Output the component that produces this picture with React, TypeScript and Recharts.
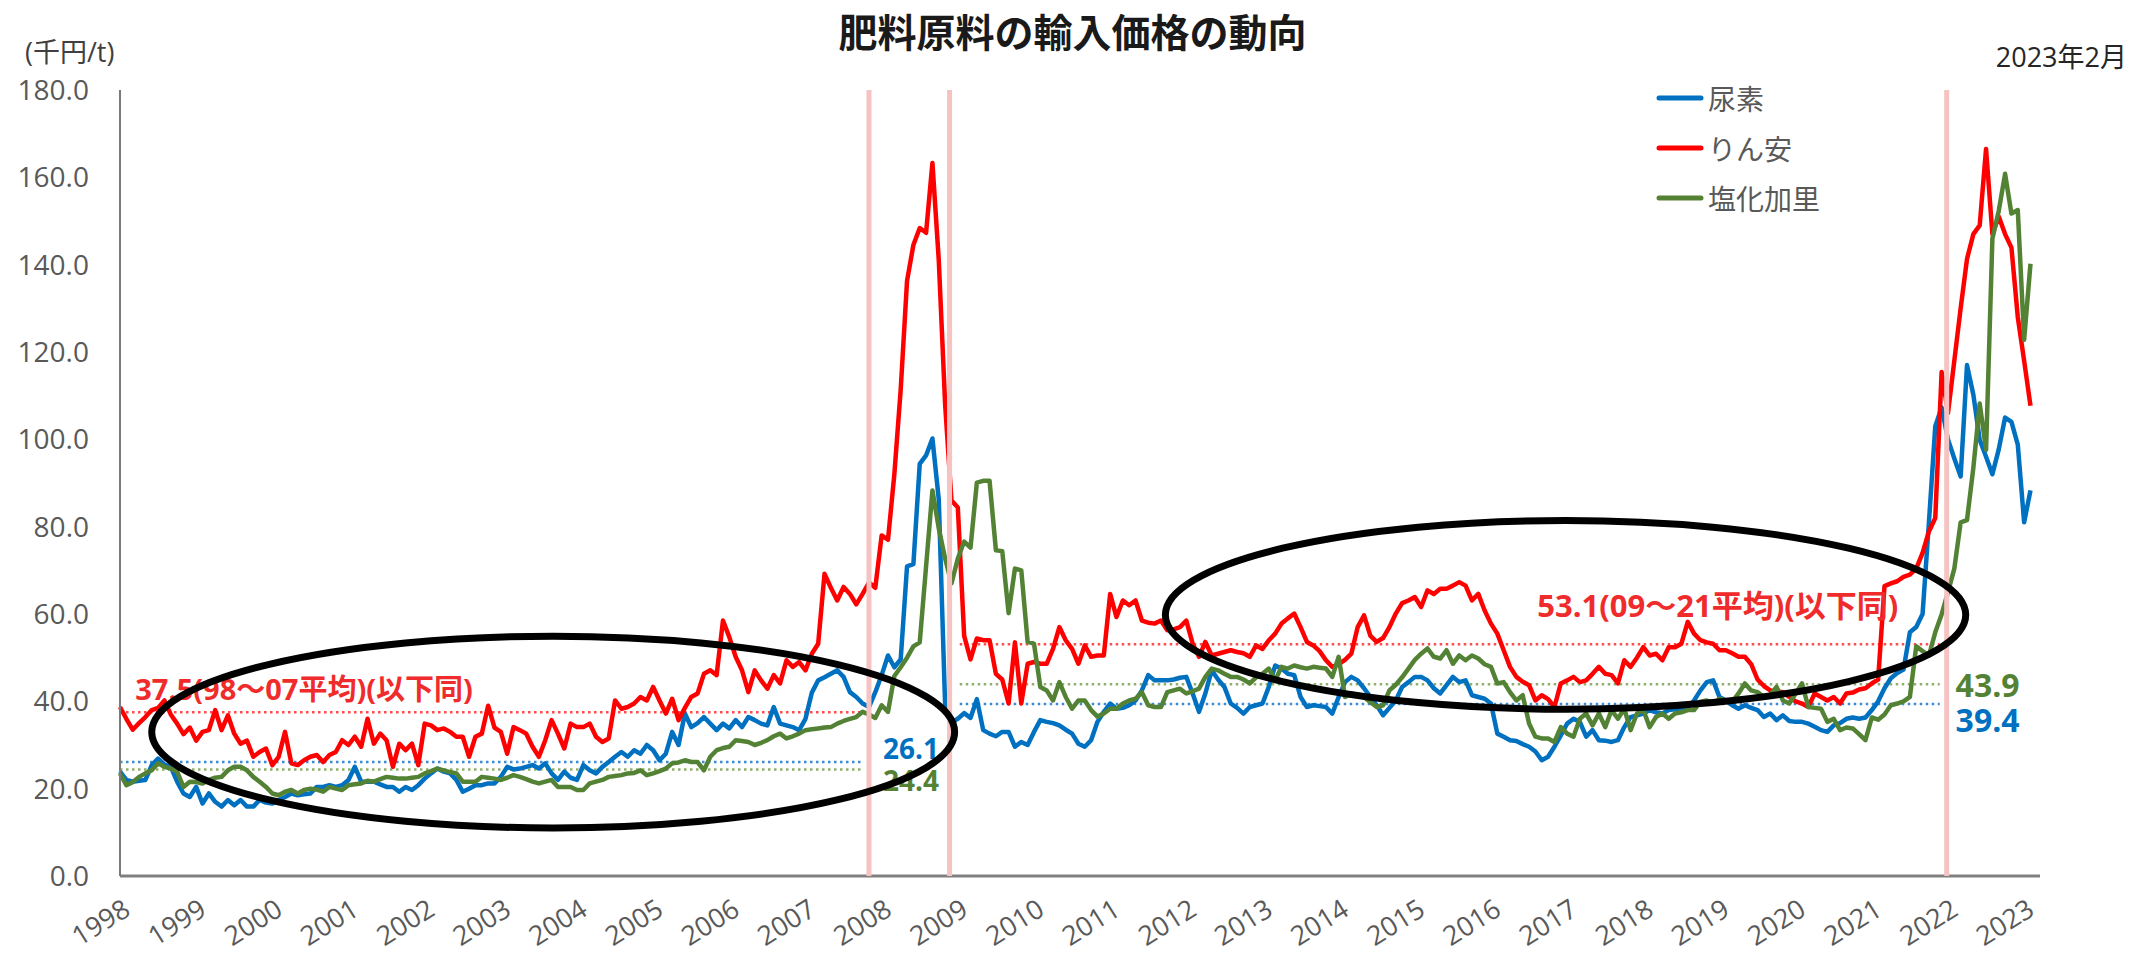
import React from 'react';
import {
  LineChart,
  Line,
  XAxis,
  YAxis,
  ReferenceLine,
  ReferenceArea,
  ReferenceDot,
  Legend,
} from 'recharts';

const LATIN = "'Open Sans', 'Noto Sans CJK JP', sans-serif";
const CJK = "'Noto Sans CJK JP', 'Open Sans', sans-serif";

// Year labels on the category axis (one tick per January)
const years = [
  1998, 1999, 2000, 2001, 2002, 2003, 2004, 2005, 2006, 2007, 2008, 2009, 2010,
  2011, 2012, 2013, 2014, 2015, 2016, 2017, 2018, 2019, 2020, 2021, 2022, 2023,
];

const yTicks = [0, 20, 40, 60, 80, 100, 120, 140, 160, 180];

// Monthly import prices (千円/t), Jan 1998 - Feb 2023
const ureaPrices = [
  23.9, 22.0, 21.6, 21.8, 22.0, 25.4, 26.9, 25.5, 25.0, 21.6, 18.9, 18.1, // 1998
  20.4, 16.6, 18.9, 17.0, 15.9, 17.4, 16.2, 17.4, 15.9, 15.9, 17.4, 16.8, // 1999
  16.6, 17.4, 18.1, 18.9, 18.5, 18.7, 18.9, 20.4, 20.4, 20.8, 20.4, 20.8, // 2000
  22.0, 25.0, 21.6, 21.6, 21.6, 21.0, 20.4, 20.4, 19.3, 20.4, 19.7, 20.8, // 2001
  22.3, 23.5, 24.6, 23.9, 23.5, 22.0, 19.3, 20.0, 20.8, 20.8, 21.2, 21.2, // 2002
  22.7, 25.0, 24.4, 24.6, 25.0, 25.4, 24.6, 25.8, 23.5, 22.0, 23.9, 22.5, // 2003
  22.0, 25.4, 24.2, 23.5, 25.0, 26.1, 27.3, 28.4, 27.3, 28.8, 28.0, 30.0, // 2004
  28.8, 26.5, 28.0, 33.0, 30.0, 37.2, 34.1, 35.0, 36.4, 34.9, 33.4, 34.9, // 2005
  33.8, 35.7, 34.1, 36.4, 35.7, 34.9, 34.5, 38.7, 34.9, 34.5, 34.1, 33.4, // 2006
  36.0, 42.0, 44.8, 45.5, 46.3, 47.1, 45.6, 42.1, 41.0, 39.5, 38.7, 42.1, // 2007
  46.0, 50.5, 47.8, 49.6, 70.9, 71.4, 94.4, 96.3, 100.2, 86.2, 39.1, 35.2, // 2008
  36.0, 37.3, 36.2, 40.5, 33.4, 32.6, 32.0, 33.0, 33.0, 29.6, 30.7, 30.0, // 2009
  33.0, 35.7, 35.3, 35.0, 34.5, 33.5, 32.6, 30.3, 29.6, 31.1, 35.3, 37.6, // 2010
  39.5, 38.3, 38.5, 39.1, 40.2, 42.5, 46.0, 44.8, 44.8, 44.8, 45.0, 45.4, // 2011
  45.6, 41.8, 37.6, 41.8, 47.1, 45.0, 43.3, 39.5, 38.5, 37.2, 38.7, 39.1, // 2012
  39.5, 43.3, 48.2, 47.5, 46.3, 46.0, 41.0, 38.7, 39.1, 38.9, 38.7, 37.2, // 2013
  41.0, 44.4, 45.6, 44.8, 43.0, 41.0, 39.1, 36.8, 38.5, 40.2, 43.3, 44.4, // 2014
  45.6, 45.6, 44.8, 43.0, 41.8, 43.7, 45.6, 44.4, 44.8, 41.4, 41.0, 40.6, // 2015
  39.5, 32.6, 31.9, 31.1, 30.9, 30.2, 29.6, 28.5, 26.5, 27.3, 29.6, 32.2, // 2016
  34.9, 36.0, 35.3, 31.9, 33.4, 31.1, 31.0, 30.7, 31.1, 34.1, 36.4, 36.8, // 2017
  37.2, 38.0, 37.5, 37.2, 38.0, 38.2, 38.3, 38.7, 40.2, 42.5, 44.4, 44.8, // 2018
  41.0, 40.2, 39.1, 38.3, 39.1, 38.5, 38.0, 36.4, 37.2, 35.7, 36.8, 35.5, // 2019
  35.3, 35.3, 34.9, 34.2, 33.4, 33.0, 34.5, 35.0, 36.0, 36.3, 36.0, 36.3, // 2020
  38.0, 40.0, 43.0, 45.3, 46.5, 47.3, 55.8, 57.0, 60.0, 81.0, 103.0, 107.3, // 2021
  100.0, 95.6, 91.5, 117.0, 110.2, 99.9, 96.0, 92.0, 97.7, 105.0, 104.0, 98.8, // 2022
  81.0, 88.3, // 2023
];

const dapPrices = [
  38.7, 36.0, 33.5, 35.0, 36.4, 38.0, 38.5, 40.2, 37.0, 34.9, 32.5, 34.0, // 1998
  31.0, 33.0, 33.4, 38.0, 33.4, 36.8, 32.6, 30.3, 31.0, 27.3, 28.4, 29.2, // 1999
  25.4, 27.3, 33.0, 25.8, 25.4, 26.5, 27.3, 27.7, 26.1, 27.7, 28.4, 31.1, // 2000
  30.0, 31.9, 29.6, 36.0, 30.3, 32.6, 31.1, 25.0, 30.3, 28.8, 30.3, 25.4, // 2001
  34.9, 34.5, 33.4, 33.8, 33.0, 31.9, 31.9, 27.3, 31.9, 32.6, 39.0, 34.0, // 2002
  33.0, 28.0, 34.1, 33.4, 32.6, 29.6, 27.3, 31.1, 35.7, 32.6, 29.2, 34.9, // 2003
  34.1, 34.1, 34.9, 31.9, 30.7, 31.5, 40.2, 38.3, 38.7, 39.5, 41.0, 40.2, // 2004
  43.3, 40.2, 37.2, 40.6, 35.7, 38.5, 41.0, 41.8, 46.3, 47.1, 46.0, 58.5, // 2005
  54.7, 50.2, 47.1, 42.1, 47.1, 44.8, 42.9, 46.0, 44.1, 49.4, 47.9, 49.0, // 2006
  47.1, 50.9, 53.2, 69.2, 66.0, 63.1, 66.2, 64.6, 62.2, 64.6, 67.2, 66.0, // 2007
  78.0, 77.0, 92.0, 111.4, 136.3, 144.5, 148.4, 147.3, 163.3, 141.0, 108.0, 86.0, // 2008
  84.4, 55.0, 49.6, 54.4, 54.0, 54.0, 46.3, 45.0, 39.5, 53.5, 39.5, 48.6, // 2009
  49.0, 48.6, 48.6, 52.0, 57.0, 54.0, 52.0, 48.6, 52.8, 50.2, 50.5, 50.5, // 2010
  64.6, 59.3, 63.1, 62.0, 63.1, 58.5, 58.0, 57.8, 58.5, 56.3, 56.5, 57.0, // 2011
  58.5, 53.2, 50.2, 53.6, 50.5, 50.9, 51.3, 51.7, 51.3, 51.0, 50.2, 52.8, // 2012
  52.0, 54.0, 55.5, 57.8, 59.0, 60.1, 57.0, 53.6, 52.8, 51.5, 49.4, 47.9, // 2013
  48.5, 49.5, 50.9, 57.0, 59.7, 55.0, 53.6, 54.5, 57.0, 60.1, 62.5, 63.1, // 2014
  63.9, 61.6, 65.4, 64.6, 65.8, 65.8, 66.5, 67.3, 66.5, 63.1, 64.6, 60.8, // 2015
  57.8, 55.5, 51.7, 47.9, 45.6, 44.5, 43.7, 40.2, 41.4, 40.5, 38.7, 44.1, // 2016
  44.8, 45.6, 44.4, 44.8, 46.3, 47.9, 46.3, 46.0, 44.1, 49.4, 47.9, 50.0, // 2017
  52.4, 50.5, 50.9, 49.4, 52.4, 52.4, 53.2, 58.2, 55.5, 54.0, 53.5, 53.2, // 2018
  51.7, 51.7, 51.0, 50.2, 50.2, 48.5, 45.0, 43.5, 42.5, 42.3, 42.1, 41.0, // 2019
  40.0, 39.5, 38.7, 41.8, 41.0, 40.2, 41.0, 39.5, 41.8, 42.0, 42.7, 43.0, // 2020
  44.1, 45.0, 66.4, 67.0, 67.5, 68.5, 69.0, 70.4, 74.0, 78.9, 82.0, 115.4, // 2021
  106.0, 118.0, 130.0, 141.3, 147.0, 149.0, 166.5, 147.0, 151.0, 147.0, 143.9, 128.0, // 2022
  118.0, 107.7, // 2023
];

const potashPrices = [
  23.5, 20.8, 21.5, 22.7, 23.5, 24.2, 25.8, 25.0, 24.6, 23.9, 20.4, 21.6, // 1998
  21.5, 21.2, 22.0, 22.5, 22.7, 24.2, 25.0, 25.0, 24.2, 22.7, 21.6, 20.4, // 1999
  18.9, 18.5, 19.3, 19.7, 18.9, 19.7, 20.0, 19.8, 19.3, 20.4, 20.0, 19.7, // 2000
  20.8, 21.0, 21.2, 21.8, 21.6, 22.2, 22.7, 22.5, 22.3, 22.3, 22.5, 22.7, // 2001
  23.5, 24.0, 24.6, 24.2, 23.8, 23.5, 21.6, 21.6, 21.6, 22.7, 22.5, 22.3, // 2002
  22.0, 22.5, 23.1, 22.7, 22.2, 21.6, 21.2, 21.6, 22.0, 20.4, 20.4, 20.4, // 2003
  19.7, 19.7, 21.2, 21.6, 22.0, 22.7, 22.9, 23.1, 23.5, 23.6, 24.2, 23.1, // 2004
  23.5, 24.0, 24.6, 25.8, 26.0, 26.5, 26.1, 26.1, 24.2, 27.3, 28.8, 29.3, // 2005
  29.6, 31.1, 30.9, 30.7, 30.0, 30.5, 31.1, 32.0, 32.6, 31.5, 32.0, 32.6, // 2006
  33.4, 33.6, 33.8, 34.0, 34.1, 34.9, 35.5, 36.0, 36.4, 37.6, 37.0, 36.2, // 2007
  39.1, 37.6, 45.8, 47.8, 50.0, 52.6, 53.5, 70.9, 88.3, 79.6, 72.7, 67.0, // 2008
  72.7, 76.6, 75.2, 90.1, 90.5, 90.5, 74.6, 74.4, 60.2, 70.4, 70.0, 53.6, // 2009
  53.2, 43.3, 42.5, 40.2, 44.4, 41.0, 38.3, 40.2, 40.2, 38.0, 36.5, 37.2, // 2010
  38.3, 38.3, 39.5, 40.2, 40.6, 42.1, 39.1, 38.7, 38.7, 42.1, 42.5, 42.9, // 2011
  41.8, 42.3, 42.9, 45.6, 47.5, 47.1, 46.3, 45.6, 45.6, 45.0, 44.1, 45.5, // 2012
  46.3, 47.5, 44.8, 47.9, 47.5, 48.2, 47.8, 47.5, 47.9, 47.7, 47.5, 45.6, // 2013
  50.2, 41.0, 41.8, 41.4, 41.0, 39.8, 38.7, 39.1, 42.5, 43.8, 45.5, 47.5, // 2014
  49.5, 50.9, 52.1, 50.2, 49.8, 51.7, 48.6, 50.5, 49.4, 50.5, 49.8, 48.5, // 2015
  47.9, 44.1, 44.4, 42.1, 40.2, 41.4, 34.9, 31.9, 31.5, 31.5, 30.7, 34.1, // 2016
  32.6, 31.9, 36.0, 37.2, 34.5, 37.2, 34.1, 38.0, 36.0, 38.3, 33.4, 37.2, // 2017
  38.0, 34.1, 36.4, 37.2, 36.0, 37.2, 37.5, 38.0, 38.0, 39.9, 40.2, 39.5, // 2018
  40.6, 40.2, 39.9, 41.8, 44.1, 42.5, 42.1, 41.0, 41.4, 43.3, 40.2, 39.5, // 2019
  41.8, 44.1, 38.7, 38.5, 38.3, 35.3, 36.0, 33.4, 34.0, 33.8, 32.5, 31.1, // 2020
  36.3, 35.8, 37.0, 39.1, 39.5, 40.0, 41.0, 52.6, 51.5, 50.5, 55.8, 59.9, // 2021
  65.0, 70.4, 81.0, 81.5, 93.5, 108.2, 97.6, 146.0, 152.3, 160.8, 151.7, 152.5, // 2022
  122.8, 140.2, // 2023
];

const series = [
  { key: 'urea', name: '尿素', color: '#0070C0' },
  { key: 'dap', name: 'りん安', color: '#FF0000' },
  { key: 'potash', name: '塩化加里', color: '#548235' },
];

// Period averages: value, month span (index from Jan 1998), label placement
const averages = [
  { value: 37.5, from: 0, to: 117, line: '#FF4B4B', text: '37.5(98～07平均)(以下同)', color: '#F02B2B', at: 2.4, dy: -24, size: 29 },
  { value: 26.1, from: 0, to: 117, line: '#3D8BD3', text: '26.1', color: '#0070C0', at: 120.2, dy: -14, size: 28 },
  { value: 24.4, from: 0, to: 117, line: '#8FAF6A', text: '24.4', color: '#548235', at: 120.2, dy: 11, size: 28 },
  { value: 53.1, from: 132.3, to: 286.7, line: '#FF4B4B', text: '53.1(09～21平均)(以下同)', color: '#F02B2B', at: 223.3, dy: -39, size: 31 },
  { value: 43.9, from: 132.3, to: 286.7, line: '#8FAF6A', text: '43.9', color: '#548235', at: 289.2, dy: 0, size: 32 },
  { value: 39.4, from: 132.3, to: 286.7, line: '#3D8BD3', text: '39.4', color: '#0070C0', at: 289.2, dy: 16, size: 32 },
];

// Price-spike period markers (month index)
const periodMarks = [118, 130.7, 287.8];

// Highlighted stretches: month span and price span
const highlights = [
  { x1: 5.0, x2: 131.5, y1: 11.0, y2: 54.9 },
  { x1: 164.7, x2: 290.8, y1: 38.2, y2: 81.4 },
];

const rows = ureaPrices.map((_, i) => ({
  t: i,
  urea: ureaPrices[i],
  dap: dapPrices[i],
  potash: potashPrices[i],
}));

const xTicks = years.map((y) => (y - 1998) * 12);

const YearTick = (props: any) => {
  const { x, y, payload } = props;
  const label = String(1998 + Math.round(payload.value / 12));
  return (
    <text
      transform={`translate(${x + 12},${y + 30}) rotate(-32)`}
      textAnchor="end"
      fill="#595959"
      fontSize={27}
      fontFamily={LATIN}
    >
      {label}
    </text>
  );
};

const EllipseShape = (props: any) => {
  const { x, y, width, height } = props;
  return (
    <ellipse
      cx={x + width / 2}
      cy={y + height / 2}
      rx={Math.abs(width) / 2}
      ry={Math.abs(height) / 2}
      fill="none"
      stroke="#000"
      strokeWidth={7}
    />
  );
};

const makeAvgLabel = (text: string, color: string, dy: number, size: number) => (props: any) => (
  <text
    x={props.cx}
    y={props.cy + dy}
    dominantBaseline="central"
    fill={color}
    fontSize={size}
    fontWeight={700}
    fontFamily={LATIN}
  >
    {text}
  </text>
);

const LegendContent = () => (
  <div style={{ fontFamily: CJK, fontSize: 28, color: '#595959' }}>
    {series.map((s) => (
      <div key={s.key} style={{ display: 'flex', alignItems: 'center', height: 50 }}>
        <svg width={48} height={10}>
          <line x1={3} x2={45} y1={5} y2={5} stroke={s.color} strokeWidth={5} strokeLinecap="round" />
        </svg>
        <span style={{ marginLeft: 4, lineHeight: '50px' }}>{s.name}</span>
      </div>
    ))}
  </div>
);

export default function App() {
  return (
    <div
      style={{
        position: 'absolute',
        left: 0,
        top: 0,
        width: 2145,
        height: 953,
        background: '#fff',
        overflow: 'hidden',
      }}
    >
      <div
        style={{
          position: 'absolute',
          left: 0,
          top: 10,
          width: 2145,
          textAlign: 'center',
          fontFamily: CJK,
          fontWeight: 700,
          fontSize: 39,
          lineHeight: '40px',
          color: '#1a1a1a',
        }}
      >
        肥料原料の輸入価格の動向
      </div>
      <div
        style={{
          position: 'absolute',
          left: 25,
          top: 37,
          fontFamily: LATIN,
          fontSize: 27,
          lineHeight: '30px',
          color: '#404040',
        }}
      >
        (千円/t)
      </div>
      <div
        style={{
          position: 'absolute',
          right: 18,
          top: 42,
          fontFamily: LATIN,
          fontSize: 27,
          lineHeight: '30px',
          color: '#262626',
        }}
      >
        2023年2月
      </div>
      <div style={{ position: 'absolute', left: 0, top: 0 }}>
        <LineChart
          width={2145}
          height={953}
          data={rows}
          margin={{ top: 90, right: 105, bottom: 0, left: 0 }}
        >
          <XAxis
            dataKey="t"
            type="number"
            domain={[0, 302.5]}
            ticks={xTicks}
            interval={0}
            tick={<YearTick />}
            tickLine={false}
            axisLine={{ stroke: '#808080', strokeWidth: 3 }}
            height={77}
          />
          <YAxis
            type="number"
            domain={[0, 180]}
            ticks={yTicks}
            interval={0}
            tickFormatter={(v: number) => v.toFixed(1)}
            tick={{ fill: '#595959', fontSize: 28, fontFamily: LATIN }}
            tickLine={false}
            tickSize={0}
            tickMargin={31}
            axisLine={{ stroke: '#7a7a7a', strokeWidth: 2 }}
            width={120}
          />
          {averages.map((a) => (
            <ReferenceLine
              key={`avg-${a.text}`}
              segment={[
                { x: a.from, y: a.value },
                { x: a.to, y: a.value },
              ]}
              stroke={a.line}
              strokeWidth={2.5}
              strokeDasharray="2.5 3.5"
            />
          ))}
          {series.map((s) => (
            <Line
              key={s.key}
              type="linear"
              dataKey={s.key}
              name={s.name}
              stroke={s.color}
              strokeWidth={4.5}
              strokeLinejoin="round"
              dot={false}
              activeDot={false}
              isAnimationActive={false}
            />
          ))}
          {periodMarks.map((m) => (
            <ReferenceLine key={`mark-${m}`} x={m} stroke="#F6C3C3" strokeWidth={5} zIndex={500} />
          ))}
          {averages.map((a) => (
            <ReferenceDot
              key={`lbl-${a.text}`}
              x={a.at}
              y={a.value}
              r={0}
              shape={makeAvgLabel(a.text, a.color, a.dy, a.size)}
              zIndex={600}
            />
          ))}
          {highlights.map((h, i) => (
            <ReferenceArea
              key={`hl-${i}`}
              x1={h.x1}
              x2={h.x2}
              y1={h.y1}
              y2={h.y2}
              shape={<EllipseShape />}
              zIndex={700}
            />
          ))}
          <Legend
            layout="vertical"
            align="center"
            verticalAlign="middle"
            wrapperStyle={{ left: 1656, top: 73, width: 300 }}
            content={<LegendContent />}
          />
        </LineChart>
      </div>
    </div>
  );
}
